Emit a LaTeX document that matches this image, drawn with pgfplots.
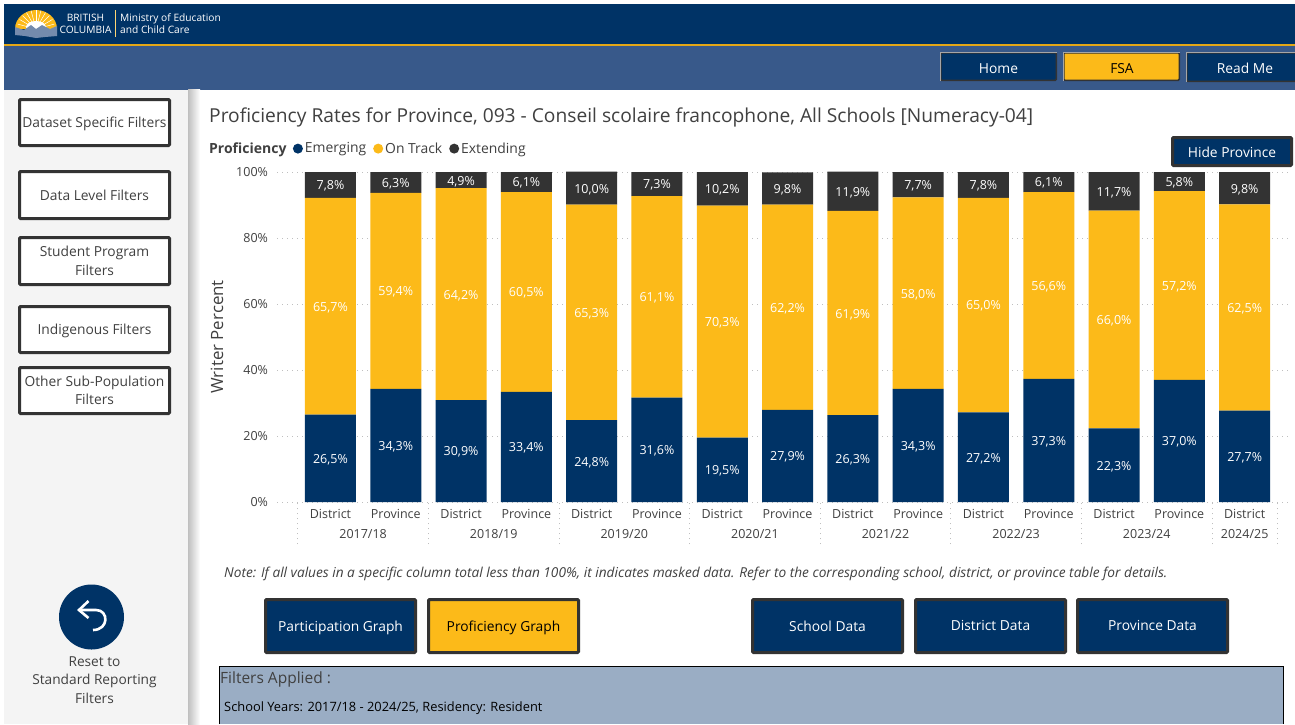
\documentclass[border=0pt]{standalone}
\usepackage{fontspec}
\setmainfont{Open Sans}
\usepackage{pgfplots}
\usepackage{pgfplotstable}
\pgfplotsset{compat=1.18}
\definecolor{navy}{HTML}{003366}
\definecolor{gold}{HTML}{FCBA19}
\definecolor{dark}{HTML}{333333}
\definecolor{band}{HTML}{38598A}
\definecolor{panel}{HTML}{9AADC4}
\definecolor{side}{HTML}{F4F4F4}
\definecolor{txt}{HTML}{404040}
\newcommand{\fs}[1]{\fontsize{#1}{#1}\selectfont}

% index emerging ontrack extending
\pgfplotstableread{
x em ot ex
0 26.5 65.7 7.8
1 34.3 59.4 6.3
2 30.9 64.2 4.9
3 33.4 60.5 6.1
4 24.8 65.3 10.0
5 31.6 61.1 7.3
6 19.5 70.3 10.2
7 27.9 62.2 9.8
8 26.3 61.9 11.9
9 34.3 58.0 7.7
10 27.2 65.0 7.8
11 37.3 56.6 6.1
12 22.3 66.0 11.7
13 37.0 57.2 5.8
14 27.7 62.5 9.8
}\rates

% buttons: [border] x1 y1 x2 y2 fill textcolour label
\newcommand{\btn}[8][3]{%
  \draw[fill=#6,draw=dark,line width=#1pt,rounded corners=1pt] (#2+#1/2,#3+#1/2) rectangle (#4-#1/2,#5-#1/2);
  \node[text=#7,align=center,font=\fontsize{13.8}{18.5}\selectfont,inner sep=0pt,yshift=-1.5pt] at ({(#2+#4)/2},{(#3+#5)/2}) {#8\vphantom{g}};
}
% nav buttons have a lighter top and left edge
\newcommand{\navbtn}[5]{%
  \btn[1.5]{#1}{#2}{#3}{#4}{#5}{white}{}
  \draw[black!35,line width=1pt] (#1+.5,#4) -- (#1+.5,#2+.5) -- (#3,#2+.5);
}

\begin{document}
\begin{tikzpicture}[x=1pt,y=-1pt]
\useasboundingbox (0,0) rectangle (1295,724);
\fill[white] (0,0) rectangle (1295,724);

% page furniture
\fill[navy] (4,4) rectangle (1295,44);
\fill[band] (4,46) rectangle (1295,89.5);
\fill[gold!90!black] (4,44) rectangle (1295,46);
\fill[side] (4,89.5) rectangle (188,724);
\shade[left color=black!25,right color=white] (188,89.5) rectangle (200,724);

% logo
\fill[gold] (15,29) arc[start angle=180,end angle=360,x radius=21,y radius=19] -- cycle;
\foreach \a in {15,30,...,165} \draw[white,line width=.5pt] (36,29) -- ++({\a}:{-19});
\fill[white] (36,27) ellipse (10 and 6);
\fill[band!70!white] (15,27) -- (24,30) -- (31,25) -- (36,29) -- (42,25) -- (50,29) -- (57,26) -- (57,36) -- (45,37) -- (36,38) -- (25,36) -- (15,35) -- cycle;
\node[text=white,align=center,font=\fontsize{10.2}{12}\selectfont,inner sep=0pt] at (85.5,23.5) {BRITISH\\COLUMBIA};
\draw[gold!60!white,line width=.5pt] (115,10) -- (115,37);
\node[text=white,align=left,anchor=west,font=\fontsize{10.2}{12}\selectfont,inner sep=0pt] at (120,23.5) {Ministry of Education\\and Child Care};

% nav buttons
\navbtn{940}{52}{1057}{81}{navy}
\navbtn{1063}{52}{1180}{81}{gold}
\navbtn{1186}{52}{1303}{82}{navy}
\node[text=white,font=\fs{13.8},inner sep=0pt,anchor=base] at (998.5,73) {Home};
\node[text=black,font=\fs{13.8},inner sep=0pt,anchor=base] at (1122,73) {FSA};
\node[text=white,font=\fs{13.8},inner sep=0pt,anchor=base] at (1245,73) {Read Me};

% side filters
\btn{18}{98}{171}{147}{white}{txt}{\raisebox{-1pt}{Dataset Specific Filters}}
\btn{18}{170}{171}{220}{white}{txt}{Data Level Filters}
\btn{18}{236}{171}{286}{white}{txt}{Student Program\\Filters}
\btn{18}{305}{171}{354}{white}{txt}{Indigenous Filters}
\btn{18}{366}{171}{415}{white}{txt}{Other Sub-Population\\Filters}

% reset
\fill[navy] (91.5,617) circle (32.5);
\draw[white,line width=2.6pt] (79,610) -- (96,610) .. controls (109,610) and (109,630) .. (93,630);
\draw[white,line width=2.6pt] (88.5,601) -- (79,610) -- (88.5,618);
\node[text=txt,align=center,font=\fontsize{13.7}{18.7}\selectfont,inner sep=0pt] at (94.5,680) {Reset to\\Standard Reporting\\Filters};

% title and legend heading
\node[text=txt,anchor=base west,inner sep=0pt,font=\fs{19.2}] at (209,122) {Proficiency Rates for Province, 093 - Conseil scolaire francophone, All Schools [Numeracy-04]};
\node[text=txt,anchor=base west,inner sep=0pt,font=\fs{14}\bfseries] at (209,153) {Proficiency};
\btn{1171}{136}{1293}{167}{navy}{white}{\raisebox{-1pt}{Hide Province}}

\begin{axis}[
    at={(277pt,-502pt)},
    anchor=south west,
    scale only axis,
    width=1014pt,
    height=330.36pt,
    ybar stacked,
    bar width=51pt,
    bar shift=0pt,
    xmin=-0.819,
    xmax=14.71,
    ymin=0,
    ymax=100.11,
    axis x line*=bottom,
    axis y line*=left,
    axis line style={draw=none},
    tick align=outside,
    major tick length=0pt,
    xtick={0,...,14},
    xticklabels={District,Province,District,Province,District,Province,District,Province,District,Province,District,Province,District,Province,District},
    extra x ticks={0.5,2.5,4.5,6.5,8.5,10.5,12.5,14},
    extra x tick labels={2017/18,2018/19,2019/20,2020/21,2021/22,2022/23,2023/24,2024/25},
    extra x tick style={xticklabel style={yshift=-20pt}},
    minor xtick={-0.5,1.5,3.5,5.5,7.5,9.5,11.5,13.5,14.5},
    minor tick length=42pt,
    minor x tick style={black!25,line width=1pt,dash pattern=on 1pt off 4pt},
    ytick={0,20,40,60,80,100},
    yticklabels={0\%,20\%,40\%,60\%,80\%,100\%},
    ymajorgrids,
    major grid style={black!25,line width=1pt,dash pattern=on 1pt off 4pt},
    tick label style={text=txt,font=\fs{12.5}},
    xticklabel style={yshift=-4pt},
    yticklabel style={xshift=-5.5pt,yshift=-0.5pt},
    ylabel={Writer Percent},
    ylabel style={text=txt,font=\fs{16.9},at={(axis description cs:-0.0592,0.5)},anchor=center},
    legend style={at={(0.0155,1.0697)},anchor=west,draw=none,fill=none,legend columns=-1,font=\fs{13.9},text=txt,inner sep=0pt,
      /tikz/every even column/.append style={column sep=5pt}},
    legend image code/.code={\fill[#1,draw=none] (0.12cm,0cm) circle (5pt);},
    nodes near coords={\pgfmathprintnumber\pgfplotspointmeta\%},
    /pgf/number format/.cd,use comma,fixed,fixed zerofill,precision=1,assume math mode=true,
    /pgfplots/.cd,
    every node near coord/.style={anchor=center,inner sep=0pt,text=white,font=\fs{12.5},yshift=-1.2pt},
]
\addplot[fill=navy,draw=none] table[x=x,y=em] {\rates};
\addplot[fill=gold,draw=none] table[x=x,y=ot] {\rates};
\addplot[fill=dark,draw=none] table[x=x,y=ex] {\rates};
\legend{Emerging,On Track,Extending}
\end{axis}

% note and lower buttons
\node[text=txt,anchor=base west,inner sep=0pt,font=\fs{13.68}\itshape] at (224,577) {Note: If all values in a specific column total less than 100\%, it indicates masked data. Refer to the corresponding school, district, or province table for details.};
\btn{264}{598}{417}{654}{navy}{white}{Participation Graph}
\btn{427}{598}{580}{654}{gold}{black}{Proficiency Graph}
\btn{751}{598}{904}{654}{navy}{white}{School Data}
\btn{914}{598}{1067}{654}{navy}{white}{District Data}
\btn{1076}{598}{1229}{654}{navy}{white}{Province Data}

% filters applied
\fill[panel] (219.5,666.5) rectangle (1283,724);
\draw[black,line width=1pt] (219.5,724) -- (219.5,666.5) -- (1283,666.5) -- (1283,724);
\node[text=txt,anchor=base west,inner sep=0pt,font=\fs{15.5}] at (220,683) {Filters Applied :};
\node[text=black,anchor=base west,inner sep=0pt,font=\fs{12.85}] at (224,711.5) {School Years: 2017/18 - 2024/25, Residency: Resident};
\end{tikzpicture}
\end{document}
